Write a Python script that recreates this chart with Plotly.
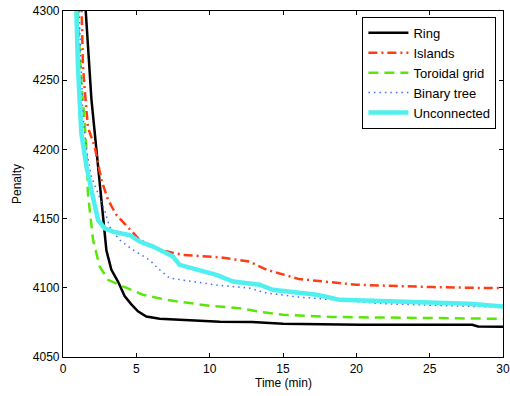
import plotly.graph_objects as go

ring_t = [1.45, 1.55, 1.94, 2.28, 2.5, 2.73, 2.96, 3.3, 3.75, 4.2, 4.66, 5.11, 5.68, 6.59, 8.86, 10.7, 12.9, 15.0, 20.2, 27.9, 28.3, 30.0]
ring_v = [4320, 4300, 4236, 4200, 4173, 4149, 4127, 4113, 4104.5, 4094, 4088, 4083, 4079.3, 4077.6, 4076.4, 4075.5, 4075.3, 4074, 4073.3, 4073.3, 4072, 4071.8]

isl_t = [1.25, 1.36, 1.48, 1.7, 2.16, 2.62, 3.07, 3.64, 4.32, 5.23, 6.59, 8.18, 10.7, 12.7, 13.9, 16.1, 20.0, 25.2, 29.1, 30.0]
isl_v = [4310, 4260, 4243, 4216, 4202, 4178, 4163.5, 4152.7, 4145, 4134.6, 4127.4, 4123.8, 4122, 4119, 4113, 4106.3, 4102.2, 4100.5, 4099.8, 4099.8]

tor_t = [1.0, 1.25, 1.48, 1.6, 1.7, 1.82, 2.05, 2.5, 3.07, 4.09, 5.45, 7.05, 10.0, 12.05, 13.2, 15.0, 18.4, 20.2, 29.8, 30.0]
tor_v = [4300, 4247.7, 4218.8, 4199.6, 4168, 4156, 4134.6, 4115.4, 4105.8, 4101, 4095, 4091.3, 4087, 4085.3, 4083, 4080.5, 4078.9, 4078.7, 4077.6, 4077.6]

bin_t = [1.1, 1.25, 1.36, 1.6, 1.94, 2.4, 2.84, 3.18, 3.86, 4.77, 5.91, 6.59, 7.27, 8.86, 10.46, 12.7, 13.9, 16.1, 18.4, 21.8, 26.4, 30.0]
bin_v = [4300, 4247, 4223.6, 4199.6, 4180, 4168, 4156, 4144, 4134.6, 4127.4, 4120, 4113, 4107, 4104.5, 4102, 4099.8, 4096.2, 4093.3, 4091.3, 4088.5, 4087, 4086]

unc_t = [0.91, 1.02, 1.25, 1.6, 2.05, 2.39, 2.84, 3.41, 4.55, 5.23, 6.14, 7.5, 7.95, 9.32, 10.46, 11.6, 13.4, 14.3, 17.3, 18.9, 20.2, 24.1, 27.7, 30.0]
unc_v = [4300, 4259.6, 4211.6, 4187.5, 4165, 4149, 4143, 4140.6, 4138, 4133.4, 4129.8, 4122.6, 4116.6, 4113, 4109.4, 4104.5, 4102.2, 4098.6, 4095, 4091.3, 4090.8, 4090, 4088.5, 4086.5]

x_ticks = [0, 5, 10, 15, 20, 25, 30]
y_ticks = [4050, 4100, 4150, 4200, 4250, 4300]

FONT = "Liberation Sans, Arial, sans-serif"

fig = go.Figure()
fig.add_trace(go.Scatter(x=ring_t, y=ring_v, mode="lines", name="Ring",
                         line=dict(color="black", width=2.5)))
fig.add_trace(go.Scatter(x=isl_t, y=isl_v, mode="lines", name="Islands",
                         line=dict(color="rgb(255,60,20)", width=2.5, dash="9px,4px,2px,4px")))
fig.add_trace(go.Scatter(x=tor_t, y=tor_v, mode="lines", name="Toroidal grid",
                         line=dict(color="rgb(90,230,10)", width=2.5, dash="10px,6px")))
fig.add_trace(go.Scatter(x=bin_t, y=bin_v, mode="lines", name="Binary tree",
                         line=dict(color="rgb(60,110,255)", width=1.5, dash="1.5px,4px")))
fig.add_trace(go.Scatter(x=unc_t, y=unc_v, mode="lines", name="Unconnected",
                         line=dict(color="rgb(80,240,240)", width=4.5)))

axis_common = dict(showgrid=False, zeroline=False, showline=True, linecolor="black",
                   linewidth=1.2, mirror="ticks", ticks="inside", ticklen=4,
                   tickcolor="black", automargin=False,
                   tickfont=dict(size=12, color="black", family=FONT))

fig.update_layout(
    width=510, height=396,
    margin=dict(l=63, r=7, t=11, b=39, autoexpand=False),
    paper_bgcolor="white", plot_bgcolor="white",
    font=dict(family=FONT, size=12, color="black"),
    xaxis=dict(range=[0, 30], tickvals=x_ticks, **axis_common),
    yaxis=dict(range=[4050, 4300], tickvals=y_ticks, **axis_common),
    legend=dict(x=0.985, y=0.983, xanchor="right", yanchor="top",
                bordercolor="black", borderwidth=1, bgcolor="white",
                font=dict(size=13, color="black", family=FONT), tracegroupgap=0,
                itemwidth=40),
    showlegend=True,
    annotations=[
        dict(text="Time (min)", xref="paper", yref="paper", x=0.5, y=0,
             yshift=-26, xanchor="center", yanchor="middle", showarrow=False,
             font=dict(size=12, family=FONT)),
        dict(text="Penalty", xref="paper", yref="paper", x=0, y=0.5,
             xshift=-46, xanchor="center", yanchor="middle", showarrow=False,
             textangle=-90, font=dict(size=12, family=FONT)),
    ],
)

fig.write_html("out.html", config={"displayModeBar": False},
               post_script="document.body.style.margin='0';document.body.style.overflow='hidden';")
